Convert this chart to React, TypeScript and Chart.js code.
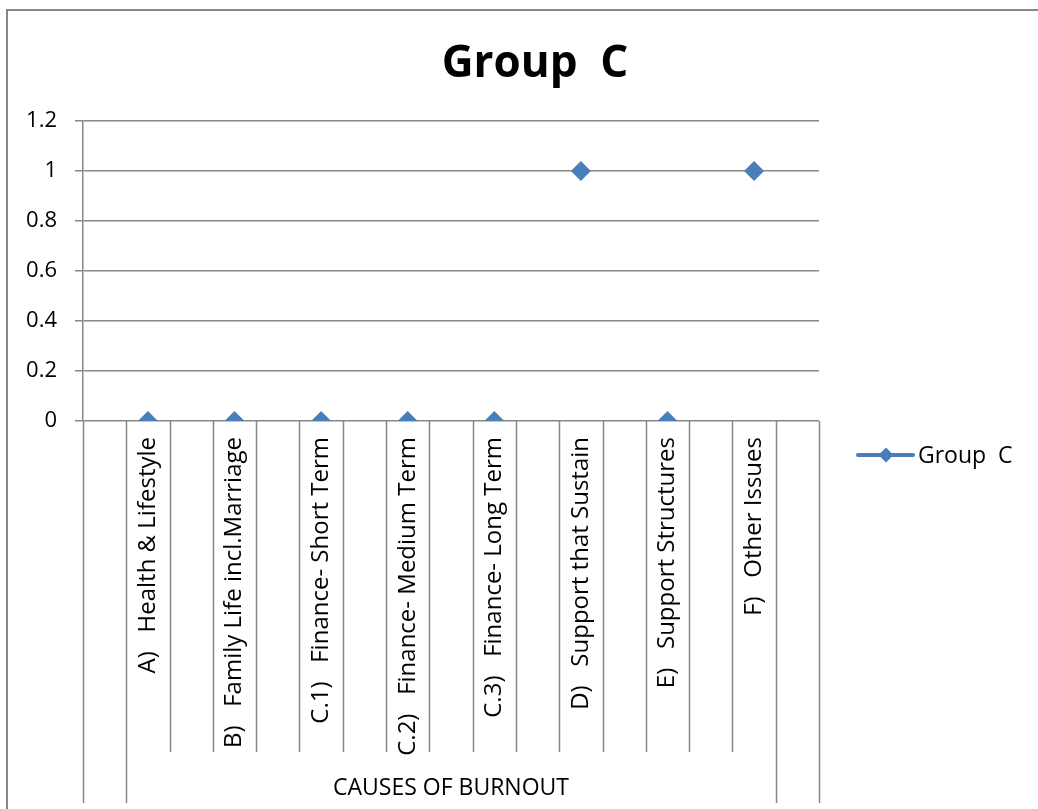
import React, { useEffect, useRef } from 'react';
import { Chart, registerables } from 'chart.js';

Chart.register(...registerables);

// Inner category level: every other slot is an empty spacer column.
const categories: string[] = [
  '',
  'A)   Health & Lifestyle',
  '',
  'B)   Family Life incl.Marriage',
  '',
  'C.1)   Finance- Short Term',
  '',
  'C.2)   Finance- Medium Term',
  '',
  'C.3)   Finance- Long Term',
  '',
  'D)   Support that Sustain',
  '',
  'E)   Support Structures',
  '',
  'F)   Other Issues',
  '',
];

// Outer category level and the inner-slot ranges it covers.
const outerGroupLabels: string[] = ['', 'CAUSES OF BURNOUT', ''];
const outerGroupSpans: [number, number][] = [
  [0, 0],
  [1, 15],
  [16, 16],
];

const chartTitle = 'Group  C';
const seriesName = 'Group  C';
const groupCValues: (number | null)[] = [
  null, 0, null, 0, null, 0, null, 0, null, 0, null, 1, null, 0, null, 1, null,
];

const yTicks: number[] = [0, 0.2, 0.4, 0.6, 0.8, 1, 1.2];

const FONT = '"Open Sans", "Noto Sans", sans-serif';
const BLUE = '#4A7EBB';
const GRID = '#878787';

const frameAndAxisPlugin = {
  id: 'frameAndAxis',
  beforeDraw(chart: any) {
    const { ctx, width, height } = chart;
    ctx.save();
    ctx.strokeStyle = GRID;
    ctx.lineWidth = 2;
    ctx.beginPath();
    ctx.moveTo(7, height);
    ctx.lineTo(7, 10);
    ctx.lineTo(width, 10);
    ctx.stroke();

    // chart title
    ctx.fillStyle = '#000';
    ctx.font = `bold 44px ${FONT}`;
    ctx.textAlign = 'center';
    ctx.textBaseline = 'alphabetic';
    ctx.fillText(chartTitle, 535, 77);
    ctx.restore();
  },
  afterDraw(chart: any) {
    const { ctx, chartArea, height } = chart;
    const x = chart.scales.x;
    const n = categories.length;
    const edge = (k: number) =>
      k === 0
        ? chartArea.left
        : k === n
        ? chartArea.right
        : (x.getPixelForValue(k - 1) + x.getPixelForValue(k)) / 2;

    const outerEdges = new Set<number>();
    outerGroupSpans.forEach(([a, b]) => {
      outerEdges.add(a);
      outerEdges.add(b + 1);
    });

    const outerBottom = height - 6;
    const innerBottom = outerBottom - 51;

    ctx.save();
    ctx.strokeStyle = GRID;
    ctx.lineWidth = 1.5;
    for (let k = 0; k <= n; k++) {
      const px = Math.round(edge(k)) + 0.5;
      ctx.beginPath();
      ctx.moveTo(px, chartArea.bottom);
      ctx.lineTo(px, outerEdges.has(k) ? outerBottom : innerBottom);
      ctx.stroke();
    }

    // outer level labels
    ctx.fillStyle = '#000';
    ctx.font = `23px ${FONT}`;
    ctx.textAlign = 'center';
    ctx.textBaseline = 'middle';
    outerGroupSpans.forEach(([a, b], i) => {
      const label = outerGroupLabels[i];
      if (!label) return;
      const cx = (edge(a) + edge(b + 1)) / 2;
      ctx.fillText(label, cx, innerBottom + 36);
    });

    // legend: line with diamond marker
    const ds = chart.data.datasets[0];
    const lx = chartArea.right + 39;
    const ly = (chartArea.top + height) / 2 - 10;
    ctx.strokeStyle = ds.borderColor;
    ctx.lineWidth = 4;
    ctx.lineCap = 'round';
    ctx.beginPath();
    ctx.moveTo(lx, ly);
    ctx.lineTo(lx + 55, ly);
    ctx.stroke();
    ctx.fillStyle = ds.pointBackgroundColor;
    const r = 7.5;
    const mx = lx + 28;
    ctx.beginPath();
    ctx.moveTo(mx - r, ly);
    ctx.lineTo(mx, ly - r);
    ctx.lineTo(mx + r, ly);
    ctx.lineTo(mx, ly + r);
    ctx.closePath();
    ctx.fill();
    ctx.fillStyle = '#000';
    ctx.textAlign = 'left';
    ctx.font = `23px ${FONT}`;
    ctx.fillText(ds.label, lx + 60, ly + 1);
    ctx.restore();
  },
};

export default function App() {
  const canvasRef = useRef<HTMLCanvasElement | null>(null);

  useEffect(() => {
    const canvas = canvasRef.current;
    if (!canvas) return;
    const chart = new Chart(canvas, {
      type: 'line',
      data: {
        labels: categories,
        datasets: [
          {
            label: seriesName,
            data: groupCValues,
            borderColor: BLUE,
            backgroundColor: BLUE,
            borderWidth: 4,
            spanGaps: false,
            pointStyle: 'rectRot',
            pointRadius: 10,
            pointHoverRadius: 10,
            pointBorderWidth: 0,
            pointBackgroundColor: BLUE,
          },
        ],
      },
      options: {
        responsive: false,
        animation: false,
        layout: { padding: { left: 0, right: 219, top: 121, bottom: 0 } },
        plugins: {
          legend: { display: false },
          tooltip: { enabled: false },
          title: { display: false },
        },
        scales: {
          x: {
            type: 'category',
            offset: true,
            grid: { display: false, drawTicks: false },
            border: { display: false },
            ticks: {
              autoSkip: false,
              minRotation: 90,
              maxRotation: 90,
              padding: 16,
              color: '#000',
              font: { family: FONT, size: 24 },
            },
            afterFit: (s: any) => {
              s.height = 388;
            },
          },
          y: {
            min: 0,
            max: 1.2,
            afterBuildTicks: (s: any) => {
              s.ticks = yTicks.map((v) => ({ value: v }));
            },
            grid: { color: GRID, lineWidth: 1.5, tickLength: 8 },
            border: { color: GRID, width: 1.5 },
            ticks: {
              padding: 18,
              color: '#000',
              font: { family: FONT, size: 22 },
              callback: (v: any) => String(Math.round(Number(v) * 10) / 10),
            },
            afterFit: (s: any) => {
              s.width = 83;
            },
          },
        },
      },
      plugins: [frameAndAxisPlugin],
    });
    return () => chart.destroy();
  }, []);

  return (
    <div style={{ position: 'absolute', left: 0, top: 0, width: 1038, height: 809, background: '#fff' }}>
      <canvas ref={canvasRef} width={1038} height={809} style={{ display: 'block' }} />
    </div>
  );
}
